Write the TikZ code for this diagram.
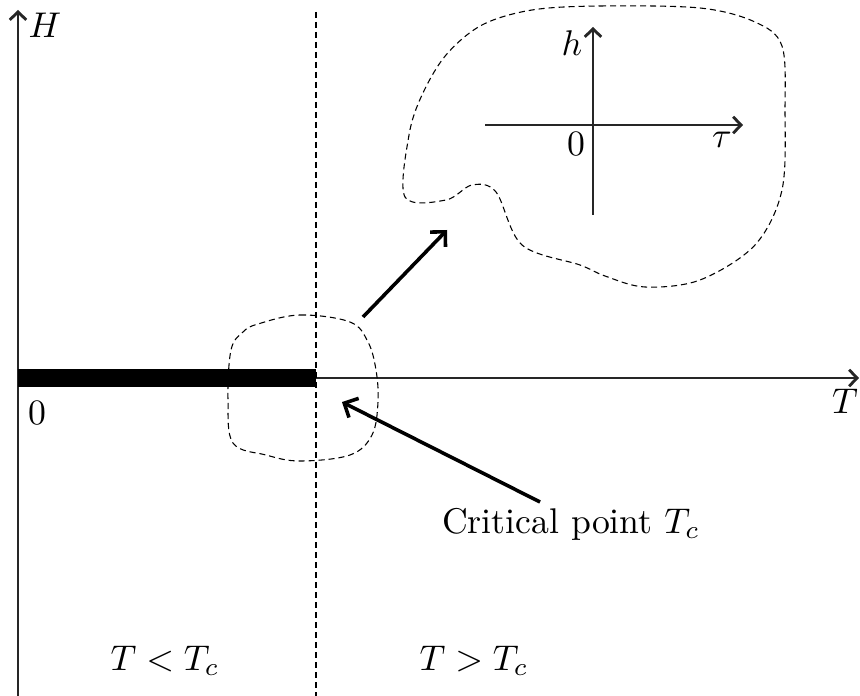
\documentclass[tikz,border=0pt]{standalone}
\usepackage{amsmath, amssymb}
\usepackage{tikz}
\usetikzlibrary{arrows.meta, positioning, calc}

\begin{document}
\begin{tikzpicture}[x=0.28pt, y=-0.28pt,
  axis/.style={-{Straight Barb[length=2.2pt, width=4.6pt, line width=0.8pt]}, line width=0.5pt, black!85},
  blob/.style={dashed, dash pattern=on 1.7pt off 1.1pt, line width=0.3pt},
  pointer/.style={-{Straight Barb[length=3pt, width=6pt, line width=1pt]}, line width=1pt},
]
  \useasboundingbox (0,0) rectangle (860,696);
  % main axes
  \coordinate (O) at (18,378);
  \coordinate (Hend) at (18,10);
  \coordinate (Tend) at (859,378);
  \coordinate (Hbot) at (18,696);
  \coordinate (Tc) at (316,378);
  \draw[axis] (Hbot) -- (Hend);
  \draw[axis] (O) -- (Tend);
  \node (Hlab) at (45,25) {$H$};
  \node (Tlab) at (845,401) {$T$};
  \node (zero) at (37,413) {$0$};
  % coexistence line
  \draw[line width=4.8pt] (O) -- (Tc);
  % critical isotherm
  \coordinate (Vtop) at (316,12);
  \coordinate (Vbot) at (316,696);
  \draw[blob] (Vtop) -- (Vbot);
  \node (low) at (165,661) {$T<T_c$};
  \node (high) at (474,661) {$T>T_c$};
  % neighbourhood of T_c
  \draw[blob] plot[smooth cycle, tension=0.6] coordinates {
    (258,324) (300,315) (350,322) (368,342) (376,370) (378,402)
    (372,435) (350,455) (300,461) (266,455) (233,443) (228,400)
    (231,350) (243,332)};
  % zoomed region
  \draw[blob] plot[smooth cycle, tension=0.55] coordinates {
    (532,10) (600,6) (700,8) (755,22) (782,46) (785,110) (782,190)
    (755,245) (700,280) (645,287) (605,276) (580,265) (522,245)
    (496,192) (472,185) (446,200) (405,197) (409,135) (422,95)
    (446,55) (482,25)};
  \coordinate (hbot) at (593,215);
  \coordinate (htop) at (593,27);
  \coordinate (tleft) at (485,125);
  \coordinate (tright) at (743,125);
  \draw[axis] (hbot) -- (htop);
  \draw[axis] (tleft) -- (tright);
  \node (hlab) at (572,43) {$h$};
  \node (taulab) at (722,140) {$\tau$};
  \node (zero2) at (576,144) {$0$};
  % pointers
  \coordinate (zfrom) at (363,317);
  \coordinate (zto) at (447,230);
  \draw[pointer] (zfrom) -- (zto);
  \node (crit) at (571,524) {Critical point $T_c$};
  \coordinate (cfrom) at (540,502);
  \coordinate (cto) at (342,402);
  \draw[pointer] (cfrom) -- (cto);
\end{tikzpicture}
\end{document}
